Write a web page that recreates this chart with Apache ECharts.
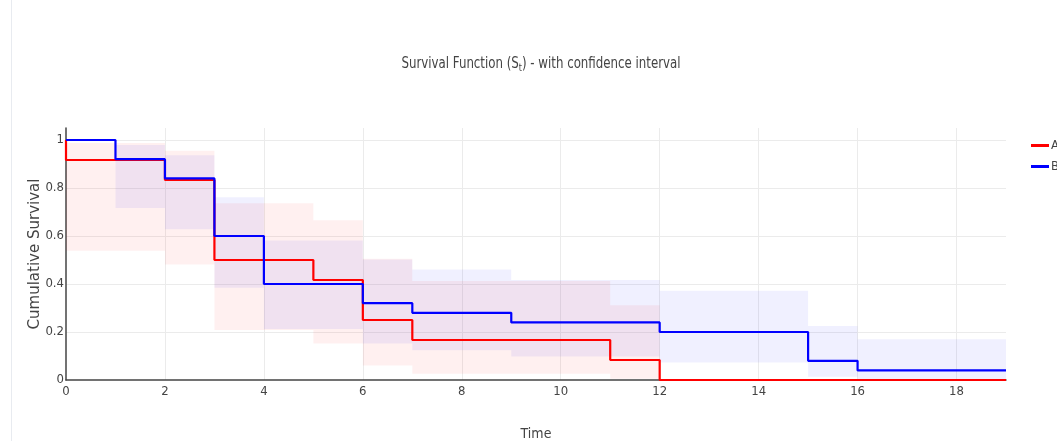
<!DOCTYPE html>
<html>
<head>
<meta charset="utf-8">
<script src="https://cdn.jsdelivr.net/npm/echarts@6/dist/echarts.min.js"></script>
<style>
html,body{margin:0;padding:0;background:#fff;}
#main{width:1057px;height:441px;}
</style>
</head>
<body>
<div id="main"></div>
<script>
// Group A: Kaplan-Meier step points
const timeA = [0, 0, 2, 3, 5, 6, 7, 11, 12, 19];
const survA = [1, 0.9167, 0.8333, 0.5, 0.4167, 0.25, 0.1667, 0.0833, 0, 0];
// Group A: confidence interval (value holds from each time until the next)
const ciTimeA = [0, 2, 3, 5, 6, 7, 11, 12];
const lowerA = [0.539, 0.4817, 0.2085, 0.1524, 0.0601, 0.0265, 0.0050, 0.0050];
const upperA = [0.9878, 0.9555, 0.7361, 0.6653, 0.5048, 0.4130, 0.3111, 0.3111];

// Group B: Kaplan-Meier step points
const timeB = [0, 1, 2, 3, 4, 6, 7, 9, 12, 15, 16, 19];
const survB = [1, 0.92, 0.84, 0.6, 0.4, 0.32, 0.28, 0.24, 0.2, 0.08, 0.04, 0.04];
// Group B: confidence interval
const lowerB = [1, 0.7164, 0.6281, 0.3845, 0.2128, 0.1524, 0.1242, 0.0976, 0.0728, 0.0139, 0.0029, 0.0029];
const upperB = [1, 0.9794, 0.9367, 0.7610, 0.5812, 0.5016, 0.4599, 0.4167, 0.3720, 0.2249, 0.1699, 0.1699];

const seriesNames = ['A', 'B'];

const zip = (xs, ys) => xs.map((x, i) => [x, ys[i]]);

// one step-shaped polygon per band, projected through the axes
function band(name, xs, lo, hi, color) {
  return {
    type: 'custom', name: name + ' CI', silent: true, z: 1,
    data: xs.map((x, i) => [x, lo[i], hi[i]]),
    encode: { x: 0, y: [1, 2] },
    renderItem: function (params, api) {
      if (params.dataIndex !== 0) return null;
      const top = [], bottom = [];
      for (let i = 0; i < xs.length - 1; i++) {
        top.push(api.coord([xs[i], hi[i]]), api.coord([xs[i + 1], hi[i]]));
        bottom.push(api.coord([xs[i], lo[i]]), api.coord([xs[i + 1], lo[i]]));
      }
      const pts = top.concat(bottom.reverse());
      return { type: 'polygon', shape: { points: pts }, style: { fill: color, stroke: null } };
    }
  };
}

const chart = echarts.init(document.getElementById('main'), null, { renderer: 'canvas' });
const labelFont = '"DejaVu Sans Condensed", "Liberation Sans Narrow", "Liberation Sans", sans-serif';

chart.setOption({
  animation: false,
  backgroundColor: '#fff',
  legend: {
    data: seriesNames,
    orient: 'vertical',
    left: 1026,
    top: 134,
    itemWidth: 18,
    itemHeight: 3,
    itemGap: 8,
    icon: 'rect',
    textStyle: { fontFamily: labelFont, fontSize: 13, color: '#444', padding: [0, 0, 0, -3] }
  },
  grid: { left: 66, right: 51, top: 128, bottom: 61, containLabel: false, outerBoundsMode: 'none' },
  xAxis: {
    type: 'value', min: 0, max: 19, interval: 2,
    name: 'Time', nameLocation: 'middle', nameGap: 47, nameMoveOverlap: false,
    nameTextStyle: { fontFamily: labelFont, fontSize: 14, color: '#444' },
    axisLine: { show: true, lineStyle: { color: '#444', width: 1.5 } },
    axisTick: { show: false },
    axisLabel: { fontFamily: labelFont, fontSize: 13, color: '#444', margin: 5, showMaxLabel: false },
    splitLine: { show: true, showMinLine: false, showMaxLine: false, lineStyle: { color: '#ebebeb', width: 1 } }
  },
  yAxis: {
    type: 'value', min: 0, max: 1.05, interval: 0.2,
    name: 'Cumulative Survival', nameLocation: 'middle', nameGap: 23, nameMoveOverlap: false,
    nameTextStyle: { fontFamily: '"DejaVu Sans", sans-serif', fontSize: 15, color: '#444' },
    axisLine: { show: true, lineStyle: { color: '#444', width: 1.5 } },
    axisTick: { show: false },
    axisLabel: { fontFamily: labelFont, fontSize: 13, color: '#444', margin: 2, showMaxLabel: false },
    splitLine: { show: true, showMinLine: false, showMaxLine: false, lineStyle: { color: '#ebebeb', width: 1 } }
  },
  graphic: [
    { type: 'line', shape: { x1: 11.5, y1: 0, x2: 11.5, y2: 441 }, style: { stroke: '#e8ebf0', lineWidth: 1 }, silent: true },
    {
      type: 'text', x: 541, y: 64, scaleX: 0.82, silent: true,
      style: {
        text: 'Survival Function (S{sub|t}) - with confidence interval',
        align: 'center', verticalAlign: 'middle',
        font: '16px ' + labelFont, fill: '#444',
        rich: {
          sub: { fontSize: 11, fontFamily: labelFont, fill: '#444', verticalAlign: 'bottom', padding: [9, 0, 0, 0] }
        }
      }
    }
  ],
  series: [
    band('A', ciTimeA, lowerA, upperA, 'rgba(255,0,0,0.06)'),
    band('B', timeB, lowerB, upperB, 'rgba(0,0,255,0.06)'),
    {
      type: 'line', name: 'A', step: 'end', data: zip(timeA, survA), symbol: 'none',
      lineStyle: { color: '#ff0000', width: 2.2 }, itemStyle: { color: '#ff0000' }, z: 3
    },
    {
      type: 'line', name: 'B', step: 'end', data: zip(timeB, survB), symbol: 'none',
      lineStyle: { color: '#0000ff', width: 2.2 }, itemStyle: { color: '#0000ff' }, z: 4
    }
  ]
});
</script>
</body>
</html>
